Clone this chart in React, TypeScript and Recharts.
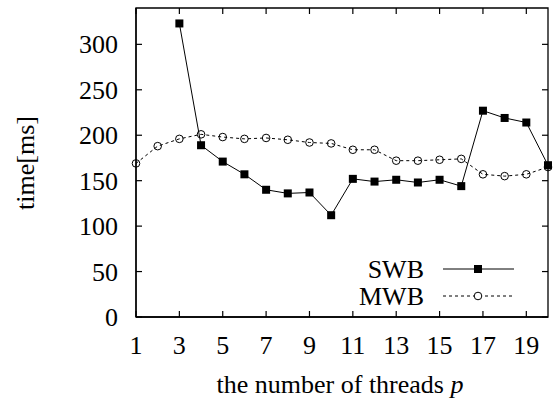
import React from 'react';
import { LineChart, Line, XAxis, YAxis, ReferenceArea, ReferenceLine } from 'recharts';

// page has an 8px default margin; the chart should sit at the corner
if (typeof document !== 'undefined') document.body.style.margin = '0';

const threads = [1, 2, 3, 4, 5, 6, 7, 8, 9, 10, 11, 12, 13, 14, 15, 16, 17, 18, 19, 20];
const swb = [null, null, 323, 189, 171, 157, 140, 136, 137, 112, 152, 149, 151, 148, 151, 144, 227, 219, 214, 167];
const mwb = [169, 188, 196, 201, 198, 196, 197, 195, 192, 191, 184, 184, 172, 172, 173, 174, 157, 155, 157, 165];
const xTicks = [1, 3, 5, 7, 9, 11, 13, 15, 17, 19];
const yTicks = [0, 50, 100, 150, 200, 250, 300];
const seriesNames = ['SWB', 'MWB'];

const data = threads.map((t, i) => ({ t, swb: swb[i], mwb: mwb[i] }));

const X_DOMAIN = [1, 20];
const Y_DOMAIN = [0, 340];
const FONT = '"Liberation Serif", "Times New Roman", serif';
const INK = '#000';

// inward tick length (6px) expressed in data units for the plot box (412 x 309 px)
const xTickLen = ((X_DOMAIN[1] - X_DOMAIN[0]) * 6) / 412;
const yTickLen = ((Y_DOMAIN[1] - Y_DOMAIN[0]) * 6) / 309;

const BottomLabel = (props: any) => (
  <text x={props.x} y={props.y + 37} textAnchor="middle" fontFamily={FONT} fontSize={26} fill={INK}>
    {props.payload.value}
  </text>
);

const LeftLabel = (props: any) => (
  <text x={props.x - 18} y={props.y + 9} textAnchor="end" fontFamily={FONT} fontSize={26} fill={INK}>
    {props.payload.value}
  </text>
);

const SquareDot = ({ cx, cy }: any) =>
  cx == null || cy == null ? null : <rect x={cx - 4} y={cy - 4} width={8} height={8} fill={INK} />;

const CircleDot = ({ cx, cy }: any) =>
  cx == null || cy == null ? null : <circle cx={cx} cy={cy} r={3.8} fill="none" stroke={INK} strokeWidth={1} />;

export default function App() {
  return (
    <LineChart width={555} height={404} data={data} margin={{ top: 8, right: 7, left: 0, bottom: 0 }}>
      <XAxis
        dataKey="t"
        type="number"
        domain={X_DOMAIN}
        ticks={xTicks}
        height={87}
        tickSize={0}
        tickMargin={0}
        tickLine={false}
        axisLine={{ stroke: INK, strokeWidth: 1.3 }}
        tick={<BottomLabel />}
        interval={0}
      />
      <YAxis
        type="number"
        domain={Y_DOMAIN}
        ticks={yTicks}
        width={136}
        tickSize={0}
        tickMargin={0}
        tickLine={false}
        axisLine={{ stroke: INK, strokeWidth: 1.3 }}
        tick={<LeftLabel />}
        interval={0}
      />
      {/* plot frame */}
      <ReferenceArea
        x1={X_DOMAIN[0]}
        x2={X_DOMAIN[1]}
        y1={Y_DOMAIN[0]}
        y2={Y_DOMAIN[1]}
        fill="none"
        fillOpacity={0}
        stroke={INK}
        strokeWidth={1.3}
      />
      {/* mirrored inward ticks on all four sides */}
      {xTicks.map((v) => (
        <ReferenceLine key={`xb${v}`} segment={[{ x: v, y: Y_DOMAIN[0] }, { x: v, y: Y_DOMAIN[0] + yTickLen }]} stroke={INK} strokeWidth={1.2} />
      ))}
      {xTicks.map((v) => (
        <ReferenceLine key={`xt${v}`} segment={[{ x: v, y: Y_DOMAIN[1] }, { x: v, y: Y_DOMAIN[1] - yTickLen }]} stroke={INK} strokeWidth={1.2} />
      ))}
      {yTicks.map((v) => (
        <ReferenceLine key={`yl${v}`} segment={[{ x: X_DOMAIN[0], y: v }, { x: X_DOMAIN[0] + xTickLen, y: v }]} stroke={INK} strokeWidth={1.2} />
      ))}
      {yTicks.map((v) => (
        <ReferenceLine key={`yr${v}`} segment={[{ x: X_DOMAIN[1], y: v }, { x: X_DOMAIN[1] - xTickLen, y: v }]} stroke={INK} strokeWidth={1.2} />
      ))}
      <Line
        dataKey="mwb"
        name="MWB"
        stroke={INK}
        strokeWidth={1}
        strokeDasharray="3 3"
        dot={<CircleDot />}
        isAnimationActive={false}
      />
      <Line
        dataKey="swb"
        name="SWB"
        stroke={INK}
        strokeWidth={1}
        dot={<SquareDot />}
        isAnimationActive={false}
      />
      {/* legend, drawn inside the plot box like gnuplot does */}
      <g>
        <text x={424} y={278} textAnchor="end" fontFamily={FONT} fontSize={26} fill={INK}>{seriesNames[0]}</text>
        <line x1={443} x2={514} y1={269} y2={269} stroke={INK} />
        <rect x={474} y={265} width={8} height={8} fill={INK} />
        <text x={424} y={305} textAnchor="end" fontFamily={FONT} fontSize={26} fill={INK}>{seriesNames[1]}</text>
        <line x1={443} x2={514} y1={296} y2={296} stroke={INK} strokeDasharray="3 3" />
        <circle cx={478} cy={296} r={3.8} fill="#fff" stroke={INK} />
      </g>
      <text x={25} y={163} transform="rotate(-90 25 163)" textAnchor="middle" dominantBaseline="central" fontFamily={FONT} fontSize={26} fill={INK}>
        time[ms]
      </text>
      <text x={340} y={393} textAnchor="middle" fontFamily={FONT} fontSize={26} fill={INK}>
        the number of threads <tspan fontStyle="italic">p</tspan>
      </text>
    </LineChart>
  );
}
